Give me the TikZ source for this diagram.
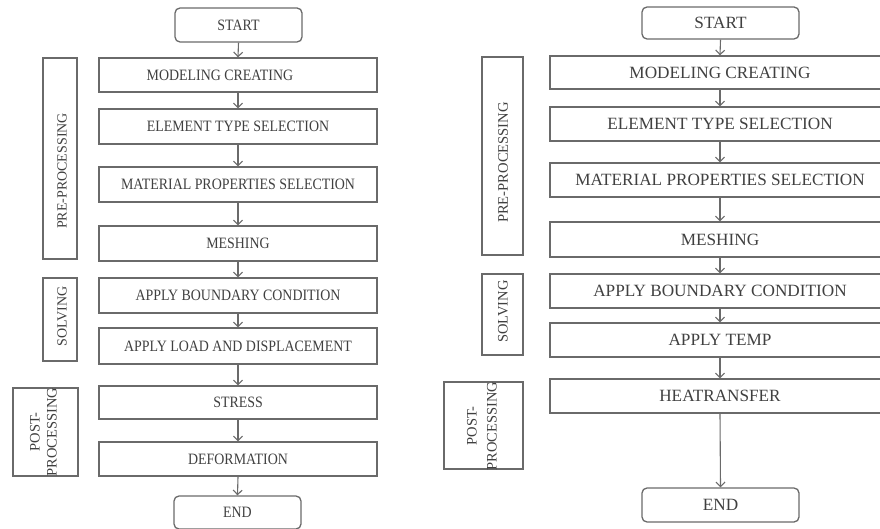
\documentclass[tikz,border=0pt]{standalone}
\usepackage{fontspec}
\setmainfont{Liberation Serif}
\usetikzlibrary{arrows.meta}
\definecolor{ln}{HTML}{6A6A6A}
\definecolor{tx}{HTML}{404040}
\newcommand{\lft}[1]{\scalebox{0.88}[1]{#1}}
\begin{document}
\begin{tikzpicture}[x=1pt,y=-1pt,
  box/.style={draw=ln,line width=1.3pt,inner sep=0pt,text=tx,fill=white},
  lbox/.style={box,minimum width=278pt,font=\fontsize{15.8}{18}\selectfont},
  rbox/.style={box,minimum width=340pt,font=\fontsize{17.2}{20}\selectfont},
  term/.style={rounded corners=5pt},
  side/.style={draw=ln,line width=1.3pt,inner sep=0pt},
  sidetext/.style={rotate=90,text=tx,inner sep=0pt,align=center},
  arr/.style={draw=ln,line width=1.1pt,-{Straight Barb[length=4.5pt,width=9pt,line width=1.1pt]}}
]
\useasboundingbox (0,0) rectangle (880,529);
\clip (0,0) rectangle (880,529);
\fill[white] (0,0) rectangle (880,529);
% ---------- left chart ----------
\node[lbox,term,minimum width=127pt,minimum height=34pt] (Ls) at (238.5,25) {\lft{START}};
\node[lbox,minimum height=34pt] (L1) at (238,75) {\lft{MODELING CREATING\hspace{2.6em}}};
\node[lbox,minimum height=35pt] (L2) at (238,126.5) {\lft{ELEMENT TYPE SELECTION}};
\node[lbox,minimum height=35pt] (L3) at (238,184.5) {\lft{MATERIAL PROPERTIES SELECTION}};
\node[lbox,minimum height=35pt] (L4) at (238,243.5) {\lft{MESHING}};
\node[lbox,minimum height=35pt] (L5) at (238,295.5) {\lft{APPLY BOUNDARY CONDITION}};
\node[lbox,minimum height=36pt] (L6) at (238,346) {\lft{APPLY LOAD AND DISPLACEMENT}};
\node[lbox,minimum height=33pt] (L7) at (238,402.5) {\lft{STRESS}};
\node[lbox,minimum height=34pt] (L8) at (238,459) {\lft{DEFORMATION}};
\node[lbox,term,minimum width=127pt,minimum height=33pt] (Le) at (237.5,512.5) {\lft{END}};
\foreach \a/\b in {Ls/L1,L1/L2,L2/L3,L3/L4,L4/L5,L5/L6,L6/L7,L7/L8,L8/Le}
  \draw[arr] (\a.south) -- (\b.north);
% side boxes left
\node[side,minimum width=34pt,minimum height=201pt] (Lpre) at (60,158.5) {};
\node[side,minimum width=34pt,minimum height=83pt] (Lsol) at (60,319.5) {};
\node[side,minimum width=65pt,minimum height=88pt] (Lpost) at (45.5,432) {};
\node[sidetext,font=\fontsize{14}{17}\selectfont] (Lpret) at (62,171) {PRE-PROCESSING};
\node[sidetext,font=\fontsize{14}{17}\selectfont] (Lsolt) at (62,316.5) {SOLVING};
\node[sidetext,font=\fontsize{14.5}{17}\selectfont] (Lpostt) at (43.5,432) {POST-\\PROCESSING};
% ---------- right chart ----------
\node[rbox,term,minimum width=157pt,minimum height=32pt] (Rs) at (720.5,23) {START};
\node[rbox,minimum height=33pt] (R1) at (720,72.5) {MODELING CREATING\hspace{2.2em}};
\node[rbox,minimum height=34pt] (R2) at (720,124) {ELEMENT TYPE SELECTION};
\node[rbox,minimum height=34pt] (R3) at (720,180) {MATERIAL PROPERTIES SELECTION};
\node[rbox,minimum height=35pt] (R4) at (720,239.5) {MESHING};
\node[rbox,minimum height=34pt] (R5) at (720,291) {APPLY BOUNDARY CONDITION};
\node[rbox,minimum height=34pt] (R6) at (720,340) {APPLY TEMP};
\node[rbox,minimum height=34pt] (R7) at (720,396) {HEATRANSFER};
\node[rbox,term,minimum width=157pt,minimum height=34pt] (Re) at (720.5,505) {END};
\foreach \a/\b in {Rs/R1,R1/R2,R2/R3,R3/R4,R4/R5,R5/R6,R6/R7,R7/Re}
  \draw[arr] (\a.south) -- (\b.north);
% side boxes right
\node[side,minimum width=41pt,minimum height=198pt] (Rpre) at (502.5,156) {};
\node[side,minimum width=41pt,minimum height=81pt] (Rsol) at (502.5,314.5) {};
\node[side,minimum width=79pt,minimum height=87pt] (Rpost) at (483.5,425.5) {};
\node[sidetext,font=\fontsize{14.6}{20}\selectfont] (Rpret) at (503,162.5) {PRE-PROCESSING};
\node[sidetext,font=\fontsize{14.5}{20}\selectfont] (Rsolt) at (503,311.5) {SOLVING};
\node[sidetext,font=\fontsize{14.5}{20}\selectfont] (Rpostt) at (482,426) {POST-\\PROCESSING};
\end{tikzpicture}
\end{document}
